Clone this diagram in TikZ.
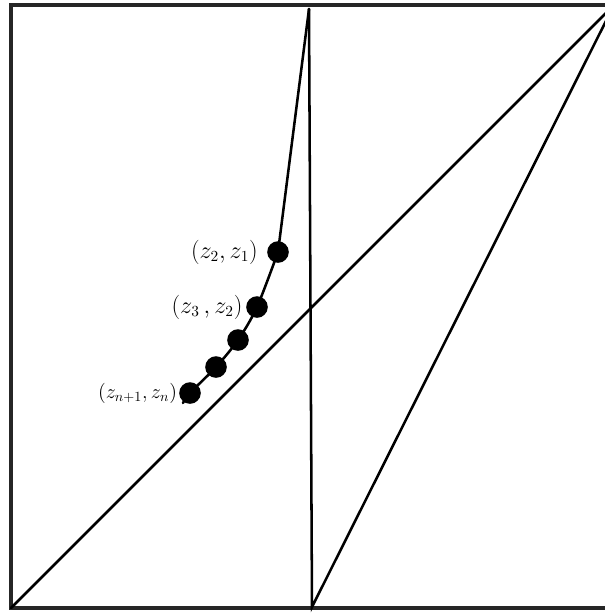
\documentclass[tikz,border=0pt]{standalone}
\usetikzlibrary{positioning}
\begin{document}
\begin{tikzpicture}[x=0.025cm,y=-0.025cm,
    frame/.style={draw=black!85,line width=2.2pt},
    seg/.style={line width=1.8pt,line cap=round},
    dot/.style={circle,fill=black,inner sep=0pt,minimum size=0.54cm},
    lbl/.style={font=\fontsize{16}{18}\selectfont,inner sep=0pt},
  ]
  \useasboundingbox (0,0) rectangle (605,614);
  \clip (0,0) rectangle (605,614);
  % outer square (cut off on the right)
  \coordinate (bl) at (11,608);
  \coordinate (tr) at (614,5);
  \draw[frame] (bl) rectangle (tr);
  % apex and foot of the zig-zag
  \coordinate (top) at (309,9);
  \coordinate (foot) at (312,607);
  \coordinate (tail) at (183,403);
  % iterates
  \node[dot] (d1) at (278,252) {};
  \node[dot] (d2) at (257,307) {};
  \node[dot] (d3) at (238,340) {};
  \node[dot] (d4) at (216,367) {};
  \node[dot] (dn) at (190,393) {};
  \node[lbl,left=0.22cm of d1] (l1) {$(z_2, z_1)$};
  \node[lbl,left=0.08cm of d2] (l2) {$(z_3\,, z_2)$};
  \node[lbl,font=\fontsize{14}{16}\selectfont,left=0.04cm of dn] (ln) {$(z_{n+1}, z_n)$};
  % lines
  \draw[seg] (bl) -- (tr);
  \draw[seg] (top) -- (foot) -- (tr);
  \draw[seg] (top) -- (d1.center);
  \draw[seg] plot[smooth,tension=0.5] coordinates
    {(d1.center) (d2.center) (d3.center) (d4.center) (dn.center) (tail)};
\end{tikzpicture}
\end{document}
